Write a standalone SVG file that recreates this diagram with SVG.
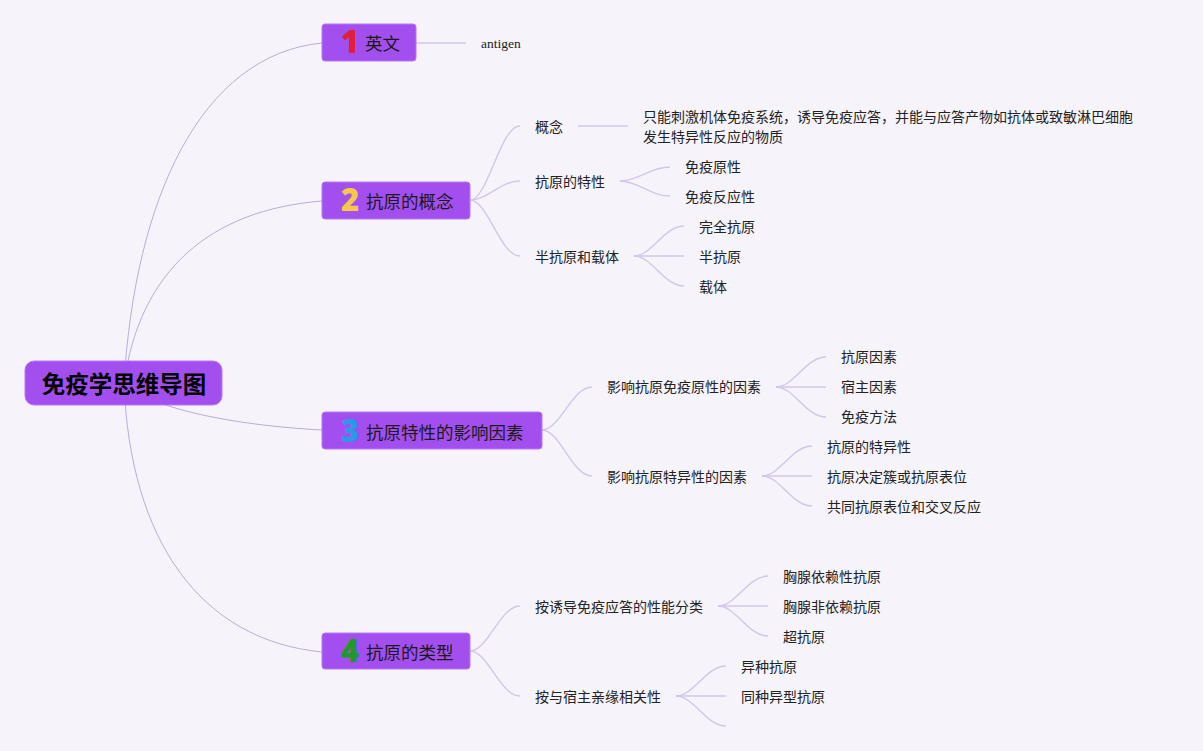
<svg xmlns="http://www.w3.org/2000/svg" width="1203" height="751" viewBox="0 0 1203 751">
<style>
.bg{fill:#f6f3fb}
.main{stroke:#b8aed6;stroke-width:1;fill:none}
.sub{stroke:#d3c6ea;stroke-width:1.4;fill:none}
.box{fill:#a34ff0;stroke:#b57af2;stroke-width:1}
.t{font-family:"Noto Sans CJK SC","Noto Sans",sans-serif;font-size:14px;fill:#222;dominant-baseline:central}
.mt{font-family:"Noto Sans CJK SC","Noto Sans",sans-serif;font-size:17.5px;fill:#1a1a1a;dominant-baseline:central}
.num{font-family:"Open Sans","Noto Sans",sans-serif;font-size:31px;font-weight:800;dominant-baseline:central;text-anchor:middle}
.rt{font-family:"Noto Sans CJK SC","Noto Sans",sans-serif;font-size:23.5px;font-weight:bold;fill:#000;dominant-baseline:central;text-anchor:middle}
.en{font-family:"Liberation Serif",serif;font-size:13.5px;fill:#222;dominant-baseline:central}
</style>
<rect class="bg" x="0" y="0" width="1203" height="751"/>
<g id="connectors">
<path class="main" d="M124,383 C135,200 200,55 322,43"/>
<path class="main" d="M124,383 C140,270 210,210 322,201"/>
<path class="main" d="M124,383 C150,408 230,425 322,430"/>
<path class="main" d="M124,383 C130,540 200,640 322,652"/>
<path class="sub" d="M416,43 L466,43"/>
<path class="sub" d="M470,200 C488,200 500,126 520,126"/>
<path class="sub" d="M470,200 C488,200 500,181 520,181"/>
<path class="sub" d="M470,200 C488,200 500,256 520,256"/>
<path class="sub" d="M578,126 L628,126"/>
<path class="sub" d="M620,181 C638,181 650,167 670,167"/>
<path class="sub" d="M620,181 C638,181 650,196 670,196"/>
<path class="sub" d="M634,256 C652,256 664,226 684,226"/>
<path class="sub" d="M634,256 L684,256"/>
<path class="sub" d="M634,256 C652,256 664,286 684,286"/>
<path class="sub" d="M542,430 C560,430 572,387 592,387"/>
<path class="sub" d="M542,430 C560,430 572,476 592,476"/>
<path class="sub" d="M776,387 C794,387 806,357 826,357"/>
<path class="sub" d="M776,387 L826,387"/>
<path class="sub" d="M776,387 C794,387 806,417 826,417"/>
<path class="sub" d="M762,476 C780,476 792,446 812,446"/>
<path class="sub" d="M762,476 L812,476"/>
<path class="sub" d="M762,476 C780,476 792,506 812,506"/>
<path class="sub" d="M470,651 C488,651 500,606 520,606"/>
<path class="sub" d="M470,651 C488,651 500,696 520,696"/>
<path class="sub" d="M718,606 C736,606 748,576 768,576"/>
<path class="sub" d="M718,606 L768,606"/>
<path class="sub" d="M718,606 C736,606 748,636 768,636"/>
<path class="sub" d="M676,696 C694,696 706,666 726,666"/>
<path class="sub" d="M676,696 L726,696"/>
<path class="sub" d="M676,696 C694,696 706,726 726,726"/>
</g>
<g id="root">
<rect class="box" x="25" y="361" width="197" height="44" rx="9"/>
<text class="rt" x="124" y="383">免疫学思维导图</text>
</g>
<g id="n1">
<rect class="box" x="322" y="24" width="94" height="37" rx="3"/>
<text class="num" x="350" y="41" fill="#e0203a">1</text>
<text class="mt" x="365" y="42">英文</text>
</g>
<g id="n1a"><text class="en" x="481" y="43">antigen</text></g>
<g id="n2">
<rect class="box" x="322" y="182" width="148" height="37" rx="3"/>
<text class="num" x="350" y="199" fill="#f5c84a">2</text>
<text class="mt" x="366" y="200">抗原的概念</text>
</g>
<g id="n2a"><text class="t" x="535" y="126">概念</text></g>
<g id="n2a1"><text class="t" x="643" y="116">只能刺激机体免疫系统，诱导免疫应答，并能与应答产物如抗体或致敏淋巴细胞</text><text class="t" x="643" y="136">发生特异性反应的物质</text></g>
<g id="n2b"><text class="t" x="535" y="181">抗原的特性</text></g>
<g id="n2b1"><text class="t" x="685" y="166">免疫原性</text></g>
<g id="n2b2"><text class="t" x="685" y="196">免疫反应性</text></g>
<g id="n2c"><text class="t" x="535" y="256">半抗原和载体</text></g>
<g id="n2c1"><text class="t" x="699" y="226">完全抗原</text></g>
<g id="n2c2"><text class="t" x="699" y="256">半抗原</text></g>
<g id="n2c3"><text class="t" x="699" y="286">载体</text></g>
<g id="n3">
<rect class="box" x="322" y="412" width="220" height="37" rx="3"/>
<text class="num" x="350" y="430" fill="#2a9ae6">3</text>
<text class="mt" x="366" y="431">抗原特性的影响因素</text>
</g>
<g id="n3a"><text class="t" x="607" y="386">影响抗原免疫原性的因素</text></g>
<g id="n3a1"><text class="t" x="841" y="356">抗原因素</text></g>
<g id="n3a2"><text class="t" x="841" y="386">宿主因素</text></g>
<g id="n3a3"><text class="t" x="841" y="416">免疫方法</text></g>
<g id="n3b"><text class="t" x="607" y="476">影响抗原特异性的因素</text></g>
<g id="n3b1"><text class="t" x="827" y="446">抗原的特异性</text></g>
<g id="n3b2"><text class="t" x="827" y="476">抗原决定簇或抗原表位</text></g>
<g id="n3b3"><text class="t" x="827" y="506">共同抗原表位和交叉反应</text></g>
<g id="n4">
<rect class="box" x="322" y="633" width="148" height="36" rx="3"/>
<text class="num" x="350" y="650" fill="#1d9a2a">4</text>
<text class="mt" x="366" y="651">抗原的类型</text>
</g>
<g id="n4a"><text class="t" x="535" y="606">按诱导免疫应答的性能分类</text></g>
<g id="n4a1"><text class="t" x="783" y="576">胸腺依赖性抗原</text></g>
<g id="n4a2"><text class="t" x="783" y="606">胸腺非依赖抗原</text></g>
<g id="n4a3"><text class="t" x="783" y="636">超抗原</text></g>
<g id="n4b"><text class="t" x="535" y="696">按与宿主亲缘相关性</text></g>
<g id="n4b1"><text class="t" x="741" y="666">异种抗原</text></g>
<g id="n4b2"><text class="t" x="741" y="696">同种异型抗原</text></g>
</svg>
